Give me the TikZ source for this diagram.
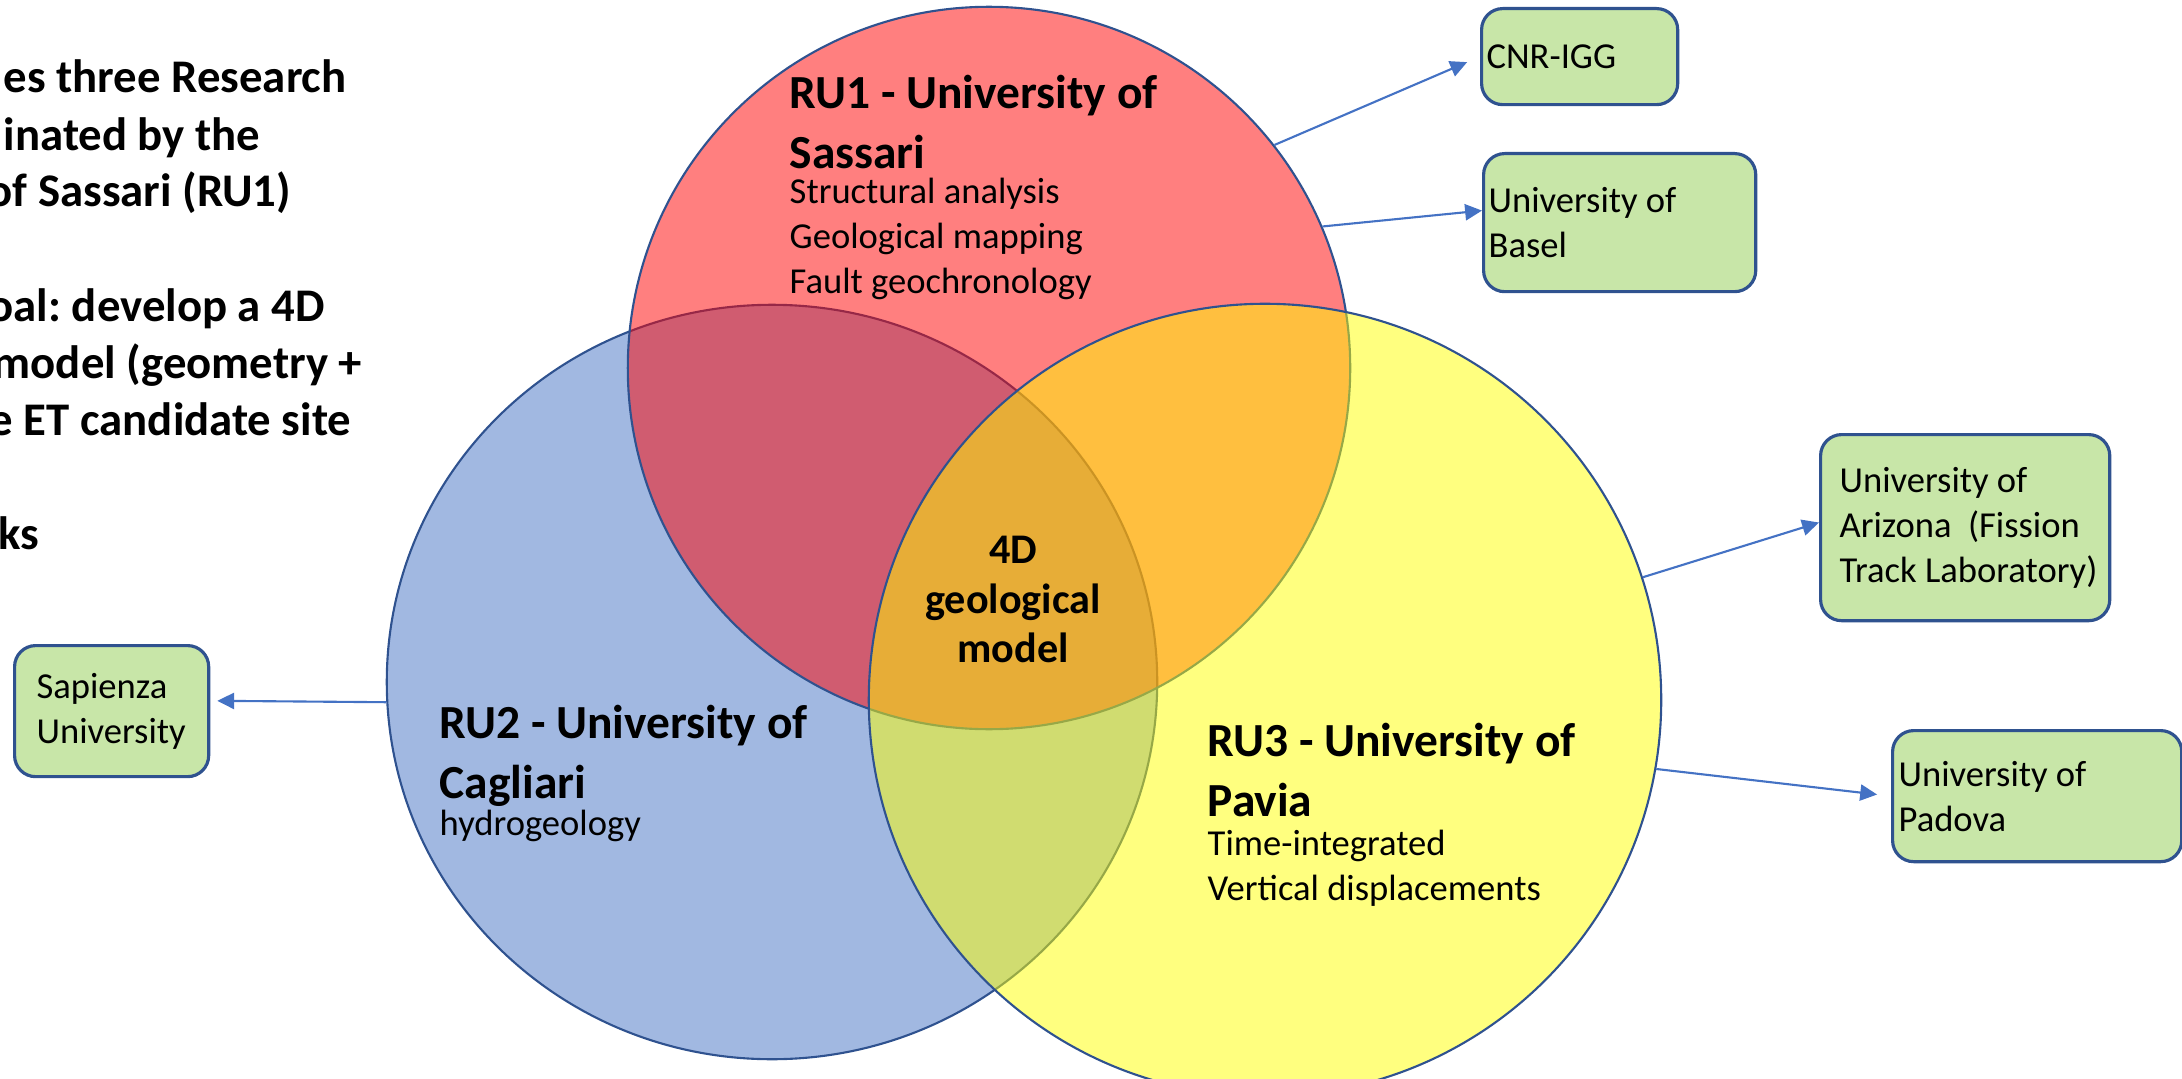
\documentclass[tikz,border=0pt]{standalone}
\usepackage{fontspec}
\setmainfont{Carlito}
\frenchspacing
\usetikzlibrary{shapes.geometric,arrows.meta}

\definecolor{rublue}{HTML}{4472C4}
\definecolor{rured}{HTML}{FF0000}
\definecolor{ruyellow}{HTML}{FFFF00}
\definecolor{rim}{HTML}{2F528F}
\definecolor{partnergreen}{HTML}{C8E6A8}

\tikzset{
  venn/.style={ellipse, draw=rim, line width=0.6pt, fill opacity=0.5, inner sep=0pt},
  head/.style={anchor=north west, inner sep=0pt, align=left, font=\bfseries\fontsize{13.5}{17.2}\selectfont},
  items/.style={anchor=north west, inner sep=0pt, align=left, font=\fontsize{10.4}{12.8}\selectfont},
  core/.style={anchor=north, inner sep=0pt, align=center, font=\bfseries\fontsize{12}{14.2}\selectfont},
  lead/.style={anchor=base west, inner sep=0pt, font=\bfseries\fontsize{13.3}{16.2}\selectfont},
  partner/.style={draw=rim, line width=0.9pt, fill=partnergreen, rounded corners=6pt,
    anchor=north west, align=flush left, inner ysep=0pt, font=\fontsize{10.4}{12.8}\selectfont},
  link/.style={draw=rublue, line width=0.6pt, -{Triangle[length=4.8pt,width=4.6pt]}},
}

\begin{document}
\begin{tikzpicture}[x=0.01cm,y=-0.01cm]
  \useasboundingbox (0,0) rectangle (2182,1079);
  %% research units
  \node[venn,fill=rublue,minimum width=7.7cm,minimum height=7.54cm] (ru2) at (772,682) {};
  \node[venn,fill=rured,minimum size=7.22cm] (ru1) at (989,368) {};
  \node[venn,fill=ruyellow,minimum size=7.92cm] (ru3) at (1265,700) {};
  %% unit labels
  \node[head] (ru1head) at (789,74) {RU1 - University of\\Sassari};
  \node[items] (ru1items) at (789,177) {Structural analysis\\Geological mapping\\Fault geochronology};
  \node[head] (ru2head) at (439,704) {RU2 - University of\\Cagliari};
  \node[items] (ru2items) at (439,809) {hydrogeology};
  \node[head] (ru3head) at (1207,722) {RU3 - University of\\Pavia};
  \node[items] (ru3items) at (1207,829) {Time-integrated\\Vertical displacements};
  \node[core] (core) at (1013,535) {4D\\geological\\model};
  %% partners
  \node[partner,text width=1.86cm,inner xsep=0.05cm,minimum height=0.96cm] (cnr) at (1480,7) {CNR-IGG};
  \node[partner,text width=2.62cm,inner xsep=0.05cm,minimum height=1.38cm] (basel) at (1482,152) {University of\\Basel};
  \node[partner,text width=2.51cm,inner xsep=0.19cm,minimum height=1.86cm] (arizona) at (1819,433)
    {University of\\\mbox{Arizona\ \ (Fission}\\\mbox{Track Laboratory)}};
  \node[partner,text width=2.77cm,inner xsep=0.06cm,minimum height=1.31cm] (padova) at (1891,729) {University of\\Padova};
  \node[partner,text width=1.5cm,inner xsep=0.22cm,minimum height=1.31cm] (sapienza) at (13,644) {Sapienza\\University};
  %% links
  \draw[link,shorten >=0.14cm] (ru1.38) -- (cnr.west);
  \draw[link] (ru1.23) -- (basel.175);
  \draw[link] (ru3.18) -- (arizona.178);
  \draw[link,shorten >=0.14cm] (ru3.350) -- (padova.west);
  \draw[link,shorten >=0.07cm] (ru2.183) -- (sapienza.6);
  %% lead text
  \foreach \t/\x/\n in {es three Research/3/0, inated by the/3/1, of Sassari (RU1)/-13/2,
      oal: develop a 4D/-12/4, model (geometry +/-8/5, e ET candidate site/-11/6, ks/-2/8}
    \node[lead] (lead\n) at (\x,{93+57*\n}) {\t};
\end{tikzpicture}
\end{document}
